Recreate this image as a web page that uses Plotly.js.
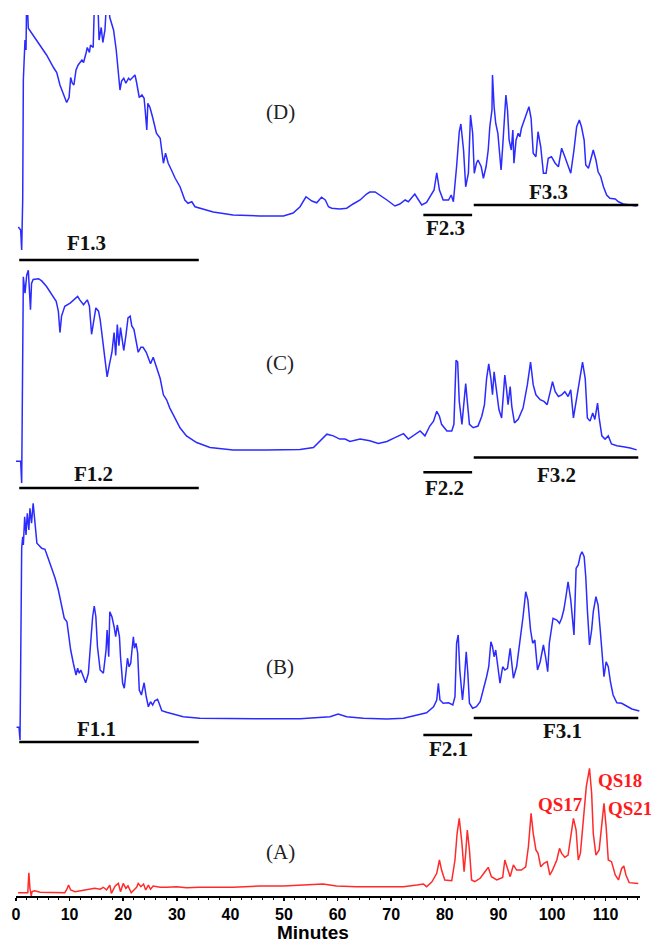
<!DOCTYPE html>
<html><head><meta charset="utf-8">
<script src="https://cdn.plot.ly/plotly-3.0.1.min.js"></script>
<style>html,body{margin:0;padding:0;background:#fff}#c{width:651px;height:945px}</style>
</head><body><div id="c"></div>
<script>
// ---- (A) red chromatogram: minutes / relative intensity
const minA = [0.4,2.2,2.4,2.6,2.85,3.0,3.5,4.5,9.1,9.5,9.8,10.2,11.0,11.9,12.9,13.8,14.7,15.7,16.3,16.9,17.5,17.8,18.5,19.1,19.5,20.0,20.5,20.9,21.5,22.0,22.5,22.8,23.3,23.8,24.2,24.7,25.1,25.6,26.2,26.9,28.1,30.0,31.8,34.3,40.5,45.5,49.9,54.9,57.3,59.8,63.6,69.2,72.3,74.8,76.0,76.6,77.6,78.5,79.0,79.4,80.0,81.3,81.9,82.3,82.7,83.2,83.6,83.9,84.2,84.6,85.0,85.6,86.6,87.5,88.1,88.7,89.7,90.8,91.2,91.7,92.2,92.8,93.4,94.3,95.1,95.6,96.1,96.5,97.0,97.4,97.9,98.5,99.1,99.6,100.1,100.9,101.4,101.8,102.4,103.0,103.5,104.0,104.5,104.9,105.3,105.9,106.4,107.0,107.4,107.7,108.2,108.8,109.3,109.7,110.1,110.5,111.1,111.8,112.4,113.0,113.4,113.8,114.4,116.1];
const intA = [2.2,2.2,15.5,5.1,0,2.9,3.5,2.5,2.2,4.5,7.3,4,2.9,3.5,4,4.5,5.1,4.5,5.8,4,7.3,1.8,6.7,8.4,2.9,8.4,5.1,6.7,2.2,4,5.8,8.4,6.2,8,4,7.3,4.5,6.7,6.2,5.8,5.8,6.2,5.5,5.8,5.8,6.7,6.7,7.3,8,6.7,6.2,6.2,6.2,7.3,8,6.2,9.5,15.1,24,17.3,10.7,10.2,24,41.8,51.8,35.1,16.2,28.4,44,30.7,10.7,9.5,11.8,16.2,19.1,12.9,10.7,12.4,24,18.4,12.9,20.7,17.3,17.3,19.5,32.9,55.1,41.8,30.7,28.4,19.5,21.8,22.9,14,17.3,24,31.8,28.4,25.8,27.3,39.5,51.8,44,24,28.4,52.9,72.9,85.1,68.4,41.8,27.3,30.7,46.2,61.8,46.2,24,22.9,14,10.7,18.4,20,14,8.9,8.4];

// ---- (B)
const minB = [0.1,0.56,0.75,0.87,1.06,1.25,1.37,1.62,1.87,2.1,2.4,2.6,2.9,3.2,3.5,3.9,4.8,5.4,6.0,6.7,7.3,7.9,8.5,9.0,9.5,9.8,10.2,10.7,11.2,11.5,11.8,12.1,12.6,13.0,13.5,13.9,14.3,14.6,14.9,15.2,15.7,16.3,16.8,17.0,17.3,17.5,17.9,18.3,18.6,18.9,19.3,19.5,19.9,20.2,20.5,20.8,21.1,21.4,21.7,21.9,22.1,22.4,22.7,23.0,23.4,23.9,24.3,24.7,25.1,25.5,25.9,26.4,26.7,27.2,28.1,29.3,31.2,34.3,40.5,46.8,53.0,56.7,58.6,60.1,61.7,64.8,69.2,72.3,74.8,76.6,77.9,78.5,78.8,79.1,79.7,80.7,81.5,81.9,82.2,82.5,82.8,83.3,83.6,84.0,84.3,84.6,85.2,85.9,86.6,87.2,87.8,88.2,88.6,88.9,89.2,89.5,89.9,90.3,90.8,91.2,91.7,92.2,92.5,92.8,93.4,94.0,94.6,95.1,95.5,96.0,96.4,96.8,97.3,97.8,98.4,98.8,99.2,99.5,99.9,100.2,100.9,101.4,101.8,102.2,102.6,103.0,103.5,103.9,104.1,104.5,104.9,105.3,105.6,106.0,106.3,106.6,107.0,107.4,107.7,108.2,108.6,109.0,109.3,109.7,110.1,110.5,110.9,111.4,112.1,113.0,113.9,114.9,116.3];
const intB = [7.1,7.1,2,23.3,78.7,83.3,80,91.3,84,92.7,86,94.7,88.7,96.7,88.7,80.7,78.7,78.3,74.7,70.7,66.7,62,55.3,50.7,49.3,43.3,38,32.7,28,30.7,28.7,30,27.3,24.9,28.7,40.7,51.3,55.6,51.3,39.3,30,28.7,38,46,35.3,53.3,51.3,47.3,43.3,48,43.3,35.3,24.7,22.7,28.7,34.7,31.3,32.7,39.3,43.3,38.7,40.7,36.7,22,20,24.9,19.3,15.3,17.3,16,17.7,18.3,16.7,13.7,13.1,12.4,11.3,10.7,10.5,10.5,10.5,10.9,11.3,12.4,11.3,10.7,10.4,10.7,12,12.9,15.3,18,24.7,18,16.7,16.9,16,19.3,40.7,44,30,18,24.7,37.3,28.7,16.7,14.7,15.3,17.3,22,27.3,31.3,41.3,39.3,35.3,38,31.3,24.7,31.3,30,30.7,38.7,32.7,26.7,31.3,40.7,51.3,61.3,58,46,40.7,42,30,33.3,40,35.3,29.3,40.7,46,50.7,50,48.7,50.7,54,59.3,65.3,58,47.3,44,70.7,72,76,77.3,75.3,67.3,54,40,46,53.3,59.3,56,46,38,27.3,33.3,31.3,25.3,20,16.9,16.7,15.6,14.4,13.6];

// ---- (C)
const minC = [0,0.87,1.06,1.18,1.37,1.68,2.0,2.3,2.5,2.7,2.9,3.2,4.2,4.8,5.7,6.7,7.5,7.9,8.2,8.5,9.1,10.1,10.7,11.5,11.9,12.6,13.3,13.7,14.1,14.6,14.9,15.4,15.7,16.0,16.4,16.8,17.0,17.4,17.9,18.3,18.6,18.9,19.2,19.5,19.9,20.1,20.5,20.9,21.3,21.6,22.0,22.4,22.8,23.3,23.7,24.3,24.7,25.1,25.6,25.9,26.4,26.9,27.5,28.1,28.7,29.7,30.6,31.8,33.7,36.2,40.5,46.8,53.0,55.5,57.0,58.0,59.2,60.4,61.4,62.3,64.2,66.0,67.6,69.2,70.4,72.3,73.2,74.4,75.4,76.3,77.2,77.9,78.5,79.0,79.4,80.4,81.3,81.7,82.1,82.4,82.7,83.2,83.6,83.9,84.2,84.6,85.3,86.2,86.9,87.4,87.8,88.2,88.6,88.9,89.2,89.7,90.1,90.6,90.9,91.2,91.5,91.8,92.2,92.5,93.0,93.7,94.6,95.4,96.0,96.5,97.0,97.8,98.5,99.1,99.6,100.1,100.6,101.2,101.8,102.4,103.0,103.5,104.0,104.5,104.9,105.3,105.7,106.2,106.6,107.1,107.6,108.0,108.5,108.8,109.3,109.9,110.5,111.1,112.1,113.3,114.6,115.8];
const intC = [11.7,11.7,2.8,44,86.7,80,87.3,89.3,80,73.3,84,85.6,85.9,85,82.7,79.3,76.7,72.7,64,70.7,74.7,76,77.3,78.7,77.3,75.3,77.3,74.7,63.3,69.3,74,72.7,69.3,64,56,50.7,46,50.7,56,64,54.7,67.3,58.7,66,58.7,56.7,62.7,70,70.7,66.7,65.3,60.7,56,58,58,56,53.3,51.3,54,52,48,45.3,38.7,36.7,33.3,29.3,25.3,22,19.3,17.3,16.3,16.3,16.5,17.3,20.7,22.7,22,20.7,20.7,19.7,20.7,20,18.9,19.7,21,22.9,20.7,22.7,24,22,26,28,32,30,26.7,24,24,26.7,52.7,52,36,26.7,37.3,43.3,36,26.7,25.3,26,30,34.7,45.3,51.3,45.3,38.7,48,40,32.7,29.3,37.3,46.7,41.3,34.7,42,34,27.3,28.7,33.3,42.7,52,42.7,38.7,36.7,36,34.7,39.3,44,40,38,38.7,40,38,40.7,29.3,36,41.3,48,52,45.3,29.3,28,31.3,28.7,35.3,29.3,22,20.7,22,18.7,18,17.6,17.1,16.3];

// ---- (D)
const minD = [0.43,0.87,1.06,1.25,1.37,1.68,1.87,2.0,2.3,3.2,4.5,5.7,7.0,7.6,8.2,8.8,9.45,9.9,10.2,10.5,10.8,11.2,11.6,12.3,12.6,13.1,13.3,13.7,13.9,14.4,14.7,15.2,15.5,15.9,16.2,16.6,17.0,17.5,18.2,18.7,19.1,19.4,19.7,20.1,20.5,21.0,21.3,21.8,22.2,22.5,23.0,23.5,23.9,24.1,24.4,24.6,25.0,25.5,25.9,26.2,26.9,27.5,27.9,28.4,29.0,29.7,30.6,31.5,32.1,32.8,33.4,34.9,36.8,40.5,45.5,49.9,51.7,53.0,54.1,55.2,56.1,57.0,57.7,58.3,58.9,60.4,61.7,62.9,64.2,65.4,66.0,67.0,67.9,69.2,70.7,71.6,72.6,73.2,74.4,75.1,75.7,76.6,77.6,78.0,78.5,79.0,79.7,80.7,81.2,81.6,82.2,82.7,83.0,83.5,83.9,84.4,84.8,85.2,85.5,85.9,86.2,86.8,87.2,87.7,88.1,88.4,88.8,88.9,89.2,89.5,89.9,90.2,90.5,90.8,91.1,91.4,91.7,92.0,92.4,92.7,92.9,93.3,93.7,94.0,94.3,94.8,95.3,95.7,96.1,96.5,97.0,97.4,97.9,98.4,98.9,99.3,99.9,100.6,101.2,101.8,102.4,103.0,103.5,104.1,104.6,105.1,105.5,106.0,106.3,106.8,107.2,107.7,108.2,108.6,109.1,109.6,110.2,110.8,111.8,112.4,113.3,114.6,115.8];
const intD = [15.2,14,6,26,74,90,86,110,94.7,92,88,84,79,77,72,68.7,65,67,75,72.7,72,78,80,82,81,85,87,85,88,87,110,110,90,95,89,94,110,99,94,86,75,70,73.6,74.7,72.7,74.7,74,75,76,73,67,68,66.7,62,54,64.7,63,59,55,52.7,50.7,40.7,44.7,40.7,38,34.7,31.3,26,24.7,25.3,23.3,22.4,21.2,20,19.6,19.6,20.8,23.3,27.3,25.6,24.9,27.1,26,23.3,22.7,22.4,22.7,24.4,26,28.4,29.2,29.2,28,26,23.6,24.4,26,25.3,28.4,26,24,25,28.7,30,36.9,30,26,26,28,25.3,39.3,53.3,56.4,46,31.3,36.7,60,52.7,36.7,40.7,42,39.3,34.7,39.3,46,55.3,62,76,63.3,56.7,52.7,43.3,38,47.3,60.7,68,62,50,46,54,40.7,50,52.7,51.3,54.7,58,60.7,63.3,58.7,44.7,43.3,53.3,47.3,36.7,36.7,42.7,43.3,40.7,39.3,46.7,43.3,40,36.7,46,55.3,58,55.3,50,40,38.7,42,46,42,37.3,35.3,31.3,28,26.7,26.4,25.3,24.4,24,23.6];

// ---- fractions (collection windows, minutes)
const fracNames1 = ['F1.1','F2.1','F3.1'];
const fracNames2 = ['F1.2','F2.2','F3.2'];
const fracNames3 = ['F1.3','F2.3','F3.3'];
const fracStart = [0.6, 76.0, 85.4];
const fracEnd   = [34.1, 85.1, 116.1];
const panelLabels = ['(A)','(B)','(C)','(D)'];
const peakLabels = ['QS17','QS18','QS21'];
const xTitle = 'Minutes';

const BLUE = '#2b2bff', RED = '#ff2a2a';
const traces = [
  {x:minA, y:intA, yaxis:'y',  color:RED},
  {x:minB, y:intB, yaxis:'y2', color:BLUE},
  {x:minC, y:intC, yaxis:'y3', color:BLUE},
  {x:minD, y:intD, yaxis:'y4', color:BLUE}
].map(t => ({type:'scatter', mode:'lines', x:t.x, y:t.y, xaxis:'x', yaxis:t.yaxis,
             line:{color:t.color, width:1.5}, hoverinfo:'skip'}));

// layout positions (style): bar heights and label anchors in each panel's own units
const barY = {y2:[1.2,4,10.8], y3:[0.8,7.2,13.2], y4:[2,20,24]};
const namePos = {
  y2:[['y2',15.05,6.2],['y',80.6,97.7],['y2',101.9,5.4]],
  y3:[['y3',14.5,6.6],['y3',80.0,0.8],['y3',100.9,6]],
  y4:[['y4',13.2,8.8],['y4',80.2,14.8],['y4',99.4,29.2]]
};
const names = {y2:fracNames1, y3:fracNames2, y4:fracNames3};
const shapes = [], annotations = [];
const serifB = {family:'Liberation Serif, Times New Roman, serif', size:21, color:'#111', weight:'bold'};
['y2','y3','y4'].forEach(ax => {
  for (let i=0;i<3;i++){
    shapes.push({type:'line', xref:'x', yref:ax, x0:fracStart[i], x1:fracEnd[i],
                 y0:barY[ax][i], y1:barY[ax][i], line:{color:'#000', width:2.6}});
    const p = namePos[ax][i];
    annotations.push({xref:'x', yref:p[0], x:p[1], y:p[2],
                      text:names[ax][i], showarrow:false, font:serifB});
  }
});
const panelPos = [['y',49.3,29.3],['y2',49.3,31.3],['y3',49.3,51.6],['y4',49.3,61.2]];
panelPos.forEach((p,i)=>annotations.push({xref:'x', yref:p[0], x:p[1], y:p[2], text:panelLabels[i],
  showarrow:false, font:{family:'Liberation Serif, Times New Roman, serif', size:21, color:'#222'}}));
const qsPos = [[101.5,61],[112.6,77.3],[114.5,58.3]];
peakLabels.forEach((t,i)=>annotations.push({xref:'x', yref:'y', x:qsPos[i][0], y:qsPos[i][1], text:t,
  showarrow:false, font:{family:'Liberation Serif, Times New Roman, serif', size:19, color:'#ff1a1a', weight:'bold'}}));
// x-axis title placed just below the tick labels
annotations.push({xref:'paper', yref:'paper', x:0.476, y:-0.0279, xanchor:'center', yanchor:'top',
  text:xTitle, showarrow:false, borderpad:0,
  font:{family:'Liberation Sans, Arial, sans-serif', size:19, color:'#000', weight:'bold'}});

const hidden = {visible:false, range:[0,100], fixedrange:true, anchor:'x'};
const layout = {
  width:651, height:945, margin:{l:16, r:11, t:0, b:49},
  paper_bgcolor:'#fff', plot_bgcolor:'rgba(0,0,0,0)', showlegend:false,
  xaxis:{range:[0,116.42], anchor:'y', tick0:0, dtick:10, ticks:'outside', ticklen:3, tickwidth:1.5,
         tickcolor:'#000', showline:true, linecolor:'#000', linewidth:2, showgrid:false, zeroline:false,
         minor:{dtick:2, ticks:'outside', ticklen:2, tickwidth:1, tickcolor:'#000', showgrid:false},
         tickfont:{family:'Liberation Sans, Arial, sans-serif', size:16, color:'#000', weight:'bold'}},
  yaxis:Object.assign({}, hidden, {domain:[0, 0.1674]}),
  yaxis2:Object.assign({}, hidden, {domain:[0.16853, 0.44754]}),
  yaxis3:Object.assign({}, hidden, {domain:[0.45313, 0.72768]}),
  yaxis4:Object.assign({}, hidden, {domain:[0.70424, 0.98326]}),
  shapes:shapes, annotations:annotations
};
Plotly.newPlot('c', traces, layout, {staticPlot:true, displayModeBar:false});
</script></body></html>
